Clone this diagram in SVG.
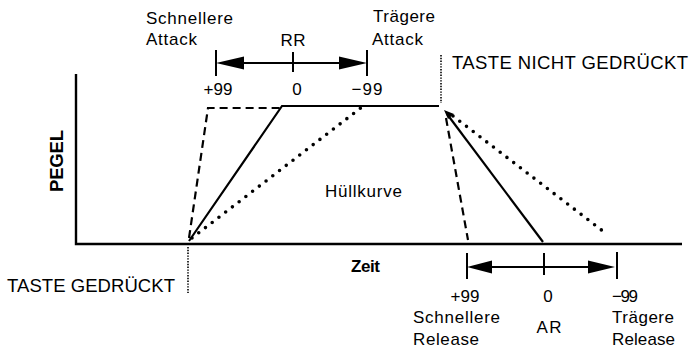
<svg xmlns="http://www.w3.org/2000/svg" width="690" height="354" viewBox="0 0 690 354">
  <style>
    text { font-family: "Liberation Sans", Arial, Helvetica, sans-serif; font-size: 17px; fill: #000; }
    .b { font-weight: bold; }
    .m { text-anchor: middle; }
    .big { font-size: 18.5px; }
    .axis { stroke: #000; stroke-width: 2.4; fill: none; }
    .solid { stroke: #000; stroke-width: 2.2; fill: none; }
    .dash { stroke: #000; stroke-width: 2.2; fill: none; stroke-dasharray: 8 5; }
    .dot { stroke: #000; stroke-width: 3.6; fill: none; stroke-dasharray: 0 8.5; stroke-linecap: round; }
    .fine { stroke: #000; stroke-width: 1.6; fill: none; stroke-dasharray: 1.4 1.4; }
    .bar { stroke: #000; stroke-width: 2; fill: none; }
    .head { fill: #000; }
  </style>

  <!-- axes -->
  <g id="axes">
    <path class="axis" d="M76,74 V244 H682"/>
    <text class="b m big" transform="translate(63,161) rotate(-90)" textLength="62">PEGEL</text>
    <text class="b" x="351" y="272" textLength="29">Zeit</text>
  </g>

  <!-- key events -->
  <g id="key-down">
    <path class="fine" d="M188,247 V293"/>
    <text class="big" x="7" y="292" textLength="168">TASTE GEDRÜCKT</text>
  </g>
  <g id="key-up">
    <path class="fine" d="M441,55 V103"/>
    <text class="big" x="452" y="69" textLength="236">TASTE  NICHT GEDRÜCKT</text>
  </g>

  <!-- envelope -->
  <g id="envelope">
    <path class="solid" d="M189,241 L282,106 H439"/>
    <path class="dash" d="M189,238 L208,108 H280"/>
    <path class="dot" d="M192,238 L362,107"/>
    <path class="solid" d="M447,114 L543,242"/>
    <path class="head" d="M444,110 L454,114 L448,119 Z"/>
    <path class="dash" d="M446,118 L468,240"/>
    <path class="dot" d="M453,116 L608,235"/>
    <text x="325" y="197" textLength="77">Hüllkurve</text>
  </g>

  <!-- attack rate scale -->
  <g id="rr-scale">
    <path class="bar" d="M216,50 V76 M293,52 V72 M367,50 V76 M240,63 H344"/>
    <path class="head" d="M216,63 L244,56.5 L244,69.5 Z"/>
    <path class="head" d="M367,63 L339,56.5 L339,69.5 Z"/>
    <text class="m" x="293" y="46" textLength="25">RR</text>
    <text class="m" x="218" y="95" textLength="29">+99</text>
    <text class="m" x="297" y="95">0</text>
    <text class="m" x="367" y="95" textLength="31">−99</text>
    <text x="146" y="24" textLength="87">Schnellere</text>
    <text x="146" y="45" textLength="51">Attack</text>
    <text x="373" y="22" textLength="62">Trägere</text>
    <text x="372" y="45" textLength="51">Attack</text>
  </g>

  <!-- release rate scale -->
  <g id="ar-scale">
    <path class="bar" d="M467,253 V279 M544,253 V275 M617,252 V279 M488,267 H592"/>
    <path class="head" d="M467,267 L492,260.5 L492,273.5 Z"/>
    <path class="head" d="M615,267 L588,260.5 L588,273.5 Z"/>
    <text class="m" x="465" y="302" textLength="29">+99</text>
    <text class="m" x="548" y="302">0</text>
    <text class="m" x="625" y="302" textLength="26">−99</text>
    <text x="413" y="323" textLength="87">Schnellere</text>
    <text x="413" y="345" textLength="66">Release</text>
    <text class="m" x="549" y="333" textLength="25">AR</text>
    <text x="612" y="323" textLength="62">Trägere</text>
    <text x="612" y="345" textLength="63">Release</text>
  </g>
</svg>
